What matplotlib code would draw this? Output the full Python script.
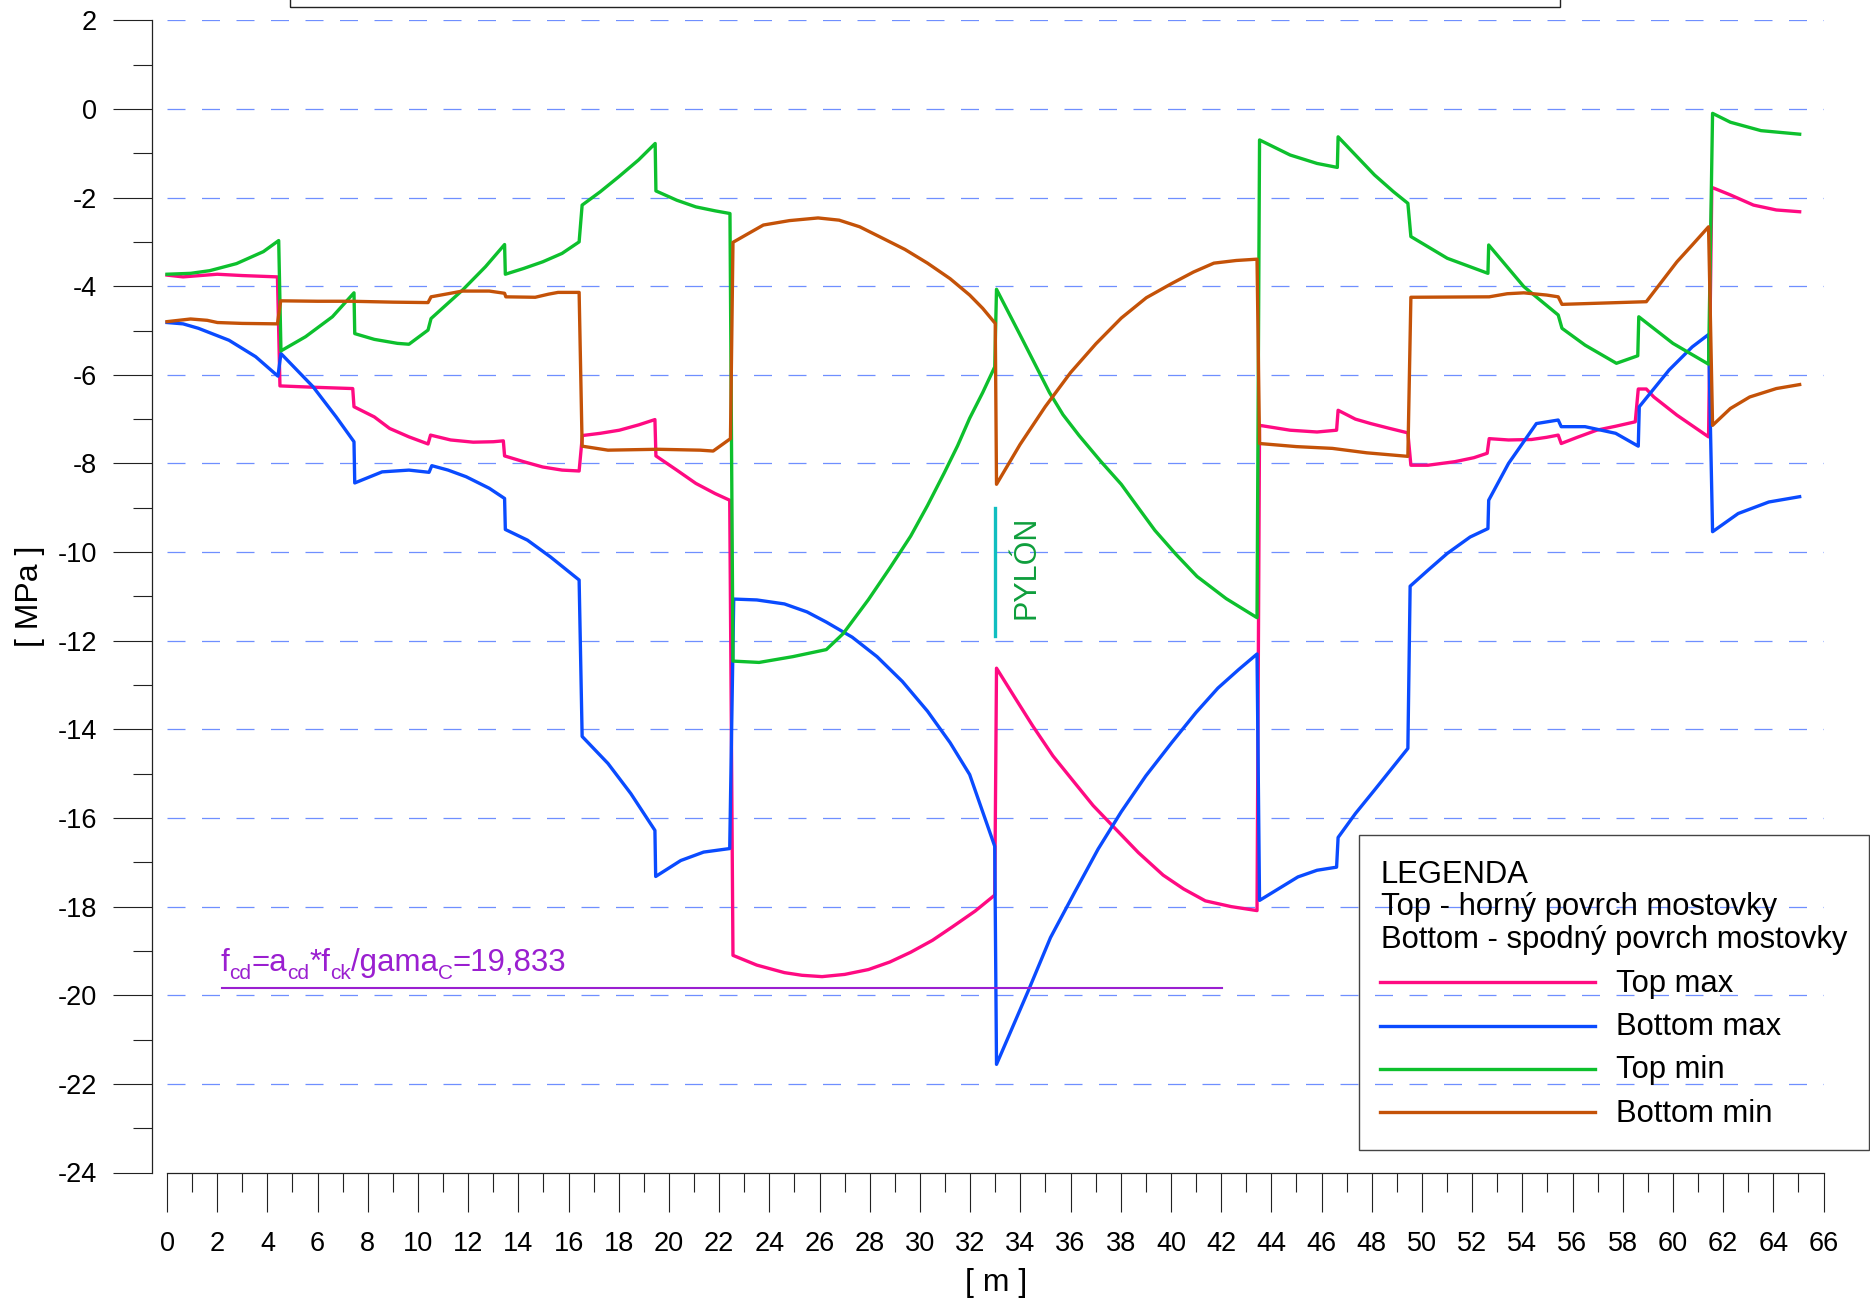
import matplotlib
matplotlib.use("Agg")
import matplotlib.pyplot as plt
from matplotlib.patches import Rectangle
from matplotlib.lines import Line2D
from matplotlib.transforms import IdentityTransform
import numpy as np

plt.rcParams['font.family'] = ['Liberation Sans', 'DejaVu Sans']
plt.rcParams['axes.unicode_minus'] = False

# ---------------------------------------------------------------- data
# stresses along the deck [m] -> [MPa]
top_max_x = [0, 0.64, 2.0, 3.0, 4.4,
             4.5, 5.82, 7.4,
             7.45, 8.26, 8.87, 9.64, 10.4,
             10.5, 11.3, 12.2, 13.0, 13.4,
             13.45, 14.21, 14.97, 15.74, 16.42,
             16.55, 17.26, 18.02, 18.79, 19.44,
             19.48, 20.31, 21.07, 21.84, 22.42,
             22.55, 23.5, 24.6, 25.3, 26.1, 27.0, 27.95, 28.8, 29.63, 30.5,
             31.31, 32.2, 32.98,
             33.05, 33.8, 34.49, 35.3, 36.17, 36.9, 37.68, 38.7, 39.69, 40.5,
             41.37, 42.4, 43.43,
             43.53, 44.75, 45.82, 46.6,
             46.66, 47.35, 47.96, 48.72, 49.44,
             49.56, 50.24, 51.31, 52.07, 52.6,
             52.68, 53.45, 54.36, 54.97, 55.43,
             55.55, 56.19, 56.96, 57.72, 58.5,
             58.62, 58.94, 59.24, 60.16, 61.42,
             61.55, 62.29, 63.21, 64.12, 65.05]
top_max_y = [-3.75, -3.79, -3.73, -3.76, -3.79,
             -6.25, -6.28, -6.31,
             -6.72, -6.95, -7.21, -7.40, -7.56,
             -7.36, -7.47, -7.52, -7.51, -7.49,
             -7.83, -7.96, -8.08, -8.15, -8.17,
             -7.37, -7.32, -7.25, -7.13, -7.01,
             -7.83, -8.15, -8.45, -8.68, -8.83,
             -19.10, -19.32, -19.49, -19.55, -19.58, -19.53, -19.42, -19.25,
             -19.03, -18.76, -18.45, -18.10, -17.74,
             -12.62, -13.30, -13.92, -14.60, -15.21, -15.72, -16.18, -16.78,
             -17.29, -17.60, -17.87, -18.00, -18.09,
             -7.14, -7.25, -7.29, -7.25,
             -6.80, -7.00, -7.10, -7.21, -7.31,
             -8.04, -8.04, -7.96, -7.87, -7.77,
             -7.44, -7.47, -7.46, -7.41, -7.36,
             -7.55, -7.41, -7.25, -7.16, -7.06,
             -6.32, -6.32, -6.50, -6.91, -7.40,
             -1.77, -1.94, -2.17, -2.28, -2.32]

bottom_max_x = [0, 0.64, 1.25, 2.47, 3.53, 4.42,
                4.54, 5.82, 6.74, 7.45,
                7.48, 8.57, 9.64, 10.44,
                10.55, 11.2, 11.92, 12.84, 13.45,
                13.48, 14.36, 15.28, 16.42,
                16.54, 17.57, 18.48, 19.44,
                19.47, 20.47, 21.38, 22.42,
                22.58, 23.5, 24.6, 25.5, 26.27, 27.3, 28.29, 29.3, 30.3, 31.2,
                31.98, 32.98,
                33.05, 34.33, 35.2, 36.17, 37.1, 38.02, 39.0, 40.03, 41.0, 41.87,
                42.7, 43.43,
                43.53, 45.06, 45.82, 46.6,
                46.66, 47.35, 48.11, 49.44,
                49.53, 50.24, 51.01, 51.92, 52.63,
                52.66, 53.45, 54.56, 55.43,
                55.55, 56.5, 57.72, 58.62,
                58.66, 59.85, 60.77, 61.42,
                61.58, 62.6, 63.82, 65.05]
bottom_max_y = [-4.82, -4.85, -4.95, -5.22, -5.59, -6.03,
                -5.52, -6.27, -6.95, -7.51,
                -8.44, -8.19, -8.15, -8.20,
                -8.05, -8.15, -8.30, -8.56, -8.79,
                -9.49, -9.73, -10.11, -10.63,
                -14.16, -14.77, -15.45, -16.28,
                -17.32, -16.96, -16.77, -16.69,
                -11.06, -11.08, -11.17, -11.35, -11.58, -11.92, -12.36, -12.92,
                -13.59, -14.30, -15.02, -16.64,
                -21.56, -19.88, -18.70, -17.67, -16.70, -15.86, -15.05, -14.30,
                -13.62, -13.07, -12.65, -12.30,
                -17.86, -17.33, -17.18, -17.11,
                -16.44, -15.90, -15.37, -14.43,
                -10.77, -10.41, -10.03, -9.66, -9.47,
                -8.83, -8.00, -7.10, -7.02,
                -7.17, -7.17, -7.32, -7.61,
                -6.72, -5.89, -5.37, -5.09,
                -9.54, -9.13, -8.87, -8.75]

top_min_x = [0, 0.94, 1.70, 2.77, 3.84, 4.45,
             4.54, 5.52, 6.59, 7.45,
             7.48, 8.26, 9.18, 9.64, 10.4,
             10.52, 11.77, 12.69, 13.45,
             13.48, 14.21, 14.97, 15.74, 16.42,
             16.54, 17.26, 18.0, 18.79, 19.45,
             19.48, 20.31, 21.07, 21.84, 22.43,
             22.55, 23.59, 24.93, 26.27, 26.94, 27.95, 28.8, 29.63, 30.3, 30.97,
             31.5, 31.98, 32.5, 32.98,
             33.05, 33.99, 35.16, 35.7, 36.34, 37.2, 38.02, 38.7, 39.36, 40.2,
             41.04, 42.2, 43.43,
             43.53, 44.75, 45.82, 46.63,
             46.66, 48.11, 48.87, 49.44,
             49.56, 51.01, 52.63,
             52.66, 54.06, 55.43,
             55.58, 56.5, 57.75, 58.6,
             58.64, 60.0, 61.42,
             61.58, 62.29, 63.51, 65.05]
top_min_y = [-3.73, -3.71, -3.65, -3.49, -3.22, -2.97,
             -5.46, -5.14, -4.69, -4.15,
             -5.07, -5.20, -5.29, -5.31, -4.99,
             -4.73, -4.09, -3.56, -3.06,
             -3.73, -3.60, -3.45, -3.26, -3.00,
             -2.17, -1.87, -1.53, -1.15, -0.78,
             -1.85, -2.06, -2.21, -2.30, -2.36,
             -12.46, -12.49, -12.36, -12.20, -11.84, -11.07, -10.36, -9.64,
             -8.95, -8.21, -7.60, -6.98, -6.40, -5.82,
             -4.07, -5.10, -6.40, -6.90, -7.37, -7.95, -8.47, -9.00, -9.51,
             -10.05, -10.55, -11.05, -11.48,
             -0.70, -1.04, -1.23, -1.32,
             -0.63, -1.49, -1.87, -2.13,
             -2.88, -3.37, -3.71,
             -3.07, -4.01, -4.65,
             -4.95, -5.33, -5.74, -5.57,
             -4.69, -5.29, -5.76,
             -0.10, -0.30, -0.49, -0.57]

bottom_min_x = [0, 0.94, 1.6, 2.01, 3.0, 4.4,
                4.53, 6.0, 7.35, 9.0, 10.4,
                10.52, 11.2, 11.77, 12.84, 13.45,
                13.5, 14.67, 15.2, 15.58, 16.42,
                16.54, 17.57, 19.55, 21.24, 21.76, 22.45,
                22.55, 23.2, 23.76, 24.8, 25.94, 26.78, 27.6, 28.45, 29.4, 30.3,
                31.2, 31.98, 32.5, 33.0,
                33.05, 33.99, 34.99, 36.0, 37.01, 38.02, 39.02, 40.03, 40.9, 41.71,
                42.6, 43.43,
                43.53, 45.0, 46.43, 47.8, 49.44,
                49.56, 52.68, 53.4, 54.06, 54.97, 55.43,
                55.58, 58.94, 59.55, 60.16, 60.77, 61.42,
                61.58, 62.29, 63.06, 64.12, 65.05]
bottom_min_y = [-4.80, -4.74, -4.77, -4.82, -4.84, -4.85,
                -4.33, -4.34, -4.34, -4.36, -4.37,
                -4.24, -4.17, -4.11, -4.11, -4.16,
                -4.24, -4.25, -4.18, -4.14, -4.14,
                -7.61, -7.70, -7.68, -7.70, -7.72, -7.44,
                -3.01, -2.80, -2.62, -2.52, -2.46, -2.51, -2.66, -2.90, -3.17,
                -3.48, -3.83, -4.20, -4.50, -4.84,
                -8.47, -7.57, -6.72, -5.95, -5.30, -4.72, -4.26, -3.94, -3.68,
                -3.48, -3.42, -3.39,
                -7.55, -7.62, -7.66, -7.76, -7.84,
                -4.25, -4.24, -4.17, -4.15, -4.20, -4.24,
                -4.41, -4.35, -3.90, -3.45, -3.07, -2.66,
                -7.14, -6.76, -6.50, -6.31, -6.22]

series_labels = ["Top max", "Bottom max", "Top min", "Bottom min"]
series_colors = ["#FF0A82", "#0A4BFF", "#0DC02D", "#C45208"]

legend_title = "LEGENDA"
legend_notes = ["Top - horný povrch mostovky", "Bottom - spodný povrch mostovky"]

fcd_value = -19.833
fcd_x = [2.18, 42.04]
fcd_pieces = [("f", False), ("cd", True), ("=a", False), ("cd", True),
              ("*f", False), ("ck", True), ("/gama", False), ("C", True),
              ("=19,833", False)]

pylon_x = 33.0
pylon_y = [-9.0, -11.9]
pylon_text = "PYLÓN"
pylon_text_pos = (34.25, -10.35)

grid_levels = np.arange(-22, 3, 2)
x_major = np.arange(0, 67, 2)
x_minor = np.arange(1, 66, 2)
y_major = np.arange(-24, 3, 2)
y_minor = np.arange(-23, 2, 2)

# ---------------------------------------------------------------- figure
W, H = 1870, 1306
fig = plt.figure(figsize=(W / 100, H / 100), dpi=100)


def fx(px):
    return px / W


def fy(py):
    return 1 - py / H


ax_left, ax_right = 152.3, 1823.5
ax_top, ax_bottom = 20.3, 1172.5
ax = fig.add_axes([fx(ax_left), fy(ax_bottom),
                   (ax_right - ax_left) / W, (ax_bottom - ax_top) / H])
ax.set_xlim(-0.586, 66)
ax.set_ylim(-24, 2)
ax.patch.set_alpha(0)

for s in ("top", "right"):
    ax.spines[s].set_visible(False)
ax.spines["left"].set_bounds(-24, 2)
ax.spines["bottom"].set_bounds(0, 66)
for s in ("left", "bottom"):
    ax.spines[s].set_linewidth(0.9)
    ax.spines[s].set_color("#222222")

ax.set_xticks(x_major)
ax.set_xticks(x_minor, minor=True)
ax.set_xticklabels([str(v) for v in x_major])
ax.set_yticks(y_major)
ax.set_yticks(y_minor, minor=True)
ax.set_yticklabels([str(v) for v in y_major])
ax.tick_params(which="major", direction="out", length=27.8, width=0.8,
               color="#222222", labelsize=19.5)
ax.tick_params(which="minor", direction="out", length=14, width=0.8,
               color="#222222")
ax.tick_params(axis="x", which="major", pad=14)
ax.tick_params(axis="y", which="major", pad=12)

# dashed horizontal guide lines
ax.hlines(grid_levels, 0, 66, colors="#6F8FFF", linewidth=0.9,
          linestyles=[(0, (14.4, 13.2))], zorder=1)

# stress curves
xs = [top_max_x, bottom_max_x, top_min_x, bottom_min_x]
ys = [top_max_y, bottom_max_y, top_min_y, bottom_min_y]
for x, y, c, lab in zip(xs, ys, series_colors, series_labels):
    ax.plot(x, y, color=c, linewidth=2.4, label=lab, zorder=3,
            solid_joinstyle="round")

# design strength line with its label
ax.plot(fcd_x, [fcd_value, fcd_value], color="#9A1FD0", linewidth=1.5, zorder=3)

# pylon marker
ax.plot([pylon_x, pylon_x], pylon_y, color="#10BEC0", linewidth=2.4, zorder=3)
ax.text(pylon_text_pos[0], pylon_text_pos[1], pylon_text, rotation=90,
        ha="center", va="center", fontsize=22, color="#0E9E3C")

# axis titles
fig.text(fx(30), fy(596), "[ MPa ]", rotation=90, ha="center", va="center",
         fontsize=23)
fig.text(fx(996), fy(1283), "[ m ]", ha="center", va="center", fontsize=23)

# fcd label built piece by piece with subscripts
renderer = fig.canvas.get_renderer()
sx, sy = ax.transData.transform((fcd_x[0], fcd_value))
cur_x = sx - 1.0
base_y = sy + 16.7
for txt, sub in fcd_pieces:
    t = fig.text(cur_x, base_y - (7.5 if sub else 0), txt,
                 transform=IdentityTransform(),
                 fontsize=15 if sub else 22.5, color="#9A1FD0",
                 ha="left", va="baseline")
    cur_x += t.get_window_extent(renderer).width

# frame cut by the upper edge
fig.add_artist(Rectangle((fx(290), fy(7.3)), fx(1560) - fx(290), 0.05,
                         transform=fig.transFigure, fill=False,
                         edgecolor="#222222", linewidth=1.0, clip_on=False))

# legend panel
fig.add_artist(Rectangle((fx(1359), fy(1150)), fx(1869) - fx(1359),
                         fy(835) - fy(1150), transform=fig.transFigure,
                         fill=False, edgecolor="#444444", linewidth=1.0))
fig.text(fx(1380.7), fy(883.3), legend_title, fontsize=22.3,
         ha="left", va="baseline")
for i, note in enumerate(legend_notes):
    fig.text(fx(1380.7), fy(915 + 33.3 * i), note, fontsize=22.3,
             ha="left", va="baseline")
legend_rows = [982.3, 1025.7, 1068.7, 1112.3]
for py, c, lab in zip(legend_rows, series_colors, series_labels):
    fig.add_artist(Line2D([fx(1380), fx(1594.5)], [fy(py), fy(py)],
                          transform=fig.transFigure, color=c, linewidth=2.4))
    fig.text(fx(1616.4), fy(py + 9.5), lab, fontsize=22.3,
             ha="left", va="baseline")

fig.savefig("out.png", dpi=100)
